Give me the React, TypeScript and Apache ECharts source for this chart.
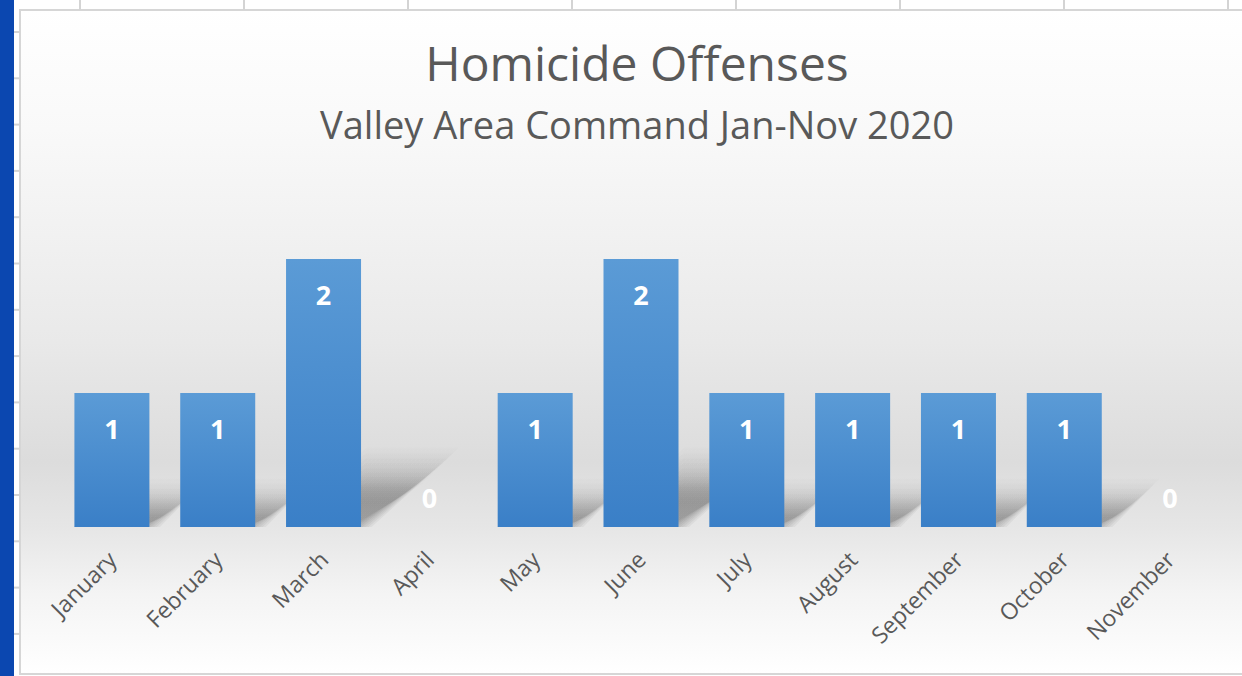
import React, { useEffect, useRef } from "react";
import * as echarts from "echarts";

const months = ["January", "February", "March", "April", "May", "June", "July", "August", "September", "October", "November"];
const offenses = [1, 1, 2, 0, 1, 2, 1, 1, 1, 1, 0];
const titleText = "Homicide Offenses";
const subtitleText = "Valley Area Command Jan-Nov 2020";

export default function App() {
  const ref = useRef<HTMLDivElement>(null);
  useEffect(() => {
    document.body.style.margin = "0";
    const chart = echarts.init(ref.current!, null, { renderer: "svg" });

    const decor: any[] = [];
    decor.push({
      type: "rect",
      z: -100,
      silent: true,
      shape: { x: 20, y: 10, width: 1240, height: 664 },
      style: {
        fill: new echarts.graphic.LinearGradient(0, 0, 0, 1, [
          { offset: 0, color: "#ffffff" },
          { offset: 0.18, color: "#f9f9f9" },
          { offset: 0.5, color: "#e9e9e9" },
          { offset: 0.68, color: "#dcdcdc" },
          { offset: 0.78, color: "#e6e6e6" },
          { offset: 0.88, color: "#f4f4f4" },
          { offset: 1, color: "#ffffff" },
        ]),
        stroke: "#d6d6d6",
        lineWidth: 2,
      },
    });
    decor.push({ type: "rect", z: -100, silent: true, shape: { x: 0, y: 0, width: 14, height: 676 }, style: { fill: "#0b47b0" } });
    for (let i = 0; i < 8; i++) {
      const x = 80 + i * 164;
      decor.push({ type: "line", z: -100, silent: true, shape: { x1: x, y1: 0, x2: x, y2: 10 }, style: { stroke: "#d4d4d4", lineWidth: 2 } });
    }
    for (let i = 0; i < 14; i++) {
      const y = 32 + i * 46.3;
      decor.push({ type: "line", z: -100, silent: true, shape: { x1: 14, y1: y, x2: 20, y2: y }, style: { stroke: "#d4d4d4", lineWidth: 2 } });
    }

    const barHalf = 37.5;

    chart.setOption({
      animation: false,
      backgroundColor: "#ffffff",
      graphic: { elements: decor },
      title: [
        {
          text: titleText,
          left: 637,
          top: 38,
          padding: 0,
          textAlign: "center",
          textStyle: { fontFamily: "Open Sans", fontWeight: "normal", fontSize: 48, lineHeight: 48, color: "#595959" },
        },
        {
          text: subtitleText,
          left: 637,
          top: 105,
          padding: 0,
          textAlign: "center",
          textStyle: { fontFamily: "Open Sans", fontWeight: "normal", fontSize: 38, lineHeight: 38, color: "#595959" },
        },
      ],
      grid: { left: 59, right: 19, top: 259, bottom: 149, containLabel: false },
      xAxis: {
        type: "category",
        data: months,
        axisLine: { show: false },
        axisTick: { show: false },
        axisLabel: {
          rotate: 45,
          margin: 28,
          interval: 0,
          fontFamily: "Open Sans",
          fontSize: 23,
          color: "#595959",
        },
      },
      yAxis: {
        type: "value",
        min: 0,
        max: 2,
        show: false,
        splitLine: { show: false },
      },
      series: [
        {
          type: "custom",
          z: 1,
          silent: true,
          data: offenses.map((v, i) => [i, v]),
          encode: { x: 0, y: 1 },
          renderItem: (params: any, api: any) => {
            const idx = api.value(0);
            const v = api.value(1);
            const base = api.coord([idx, 0]);
            const top = api.coord([idx, v]);
            const h = base[1] - top[1];
            if (h <= 0) return null;
            const dx = 0.3 * h;
            const dy = 0.23 * h;
            const children: any[] = [];
            const layers = 8;
            for (let k = 0; k < layers; k++) {
              const e = (k - (layers - 1) / 2) * 5;
              children.push({
                type: "polygon",
                shape: {
                  points: [
                    [base[0] - barHalf, base[1]],
                    [base[0] + barHalf + e * 0.6, base[1]],
                    [base[0] + barHalf + dx + e, base[1] - dy - e],
                    [base[0] - barHalf + dx, base[1] - dy - e],
                  ],
                },
                style: {
                  fill: new echarts.graphic.LinearGradient(0, 1, 0, 0, [
                    { offset: 0, color: "rgba(0,0,0,0.045)" },
                    { offset: 0.5, color: "rgba(0,0,0,0.05)" },
                    { offset: 1, color: "rgba(0,0,0,0.01)" },
                  ]),
                },
              });
            }
            return { type: "group", children };
          },
        },
        {
          type: "bar",
          z: 2,
          barWidth: 75,
          data: offenses.map((v) => ({
            value: v,
            label: v === 0 ? { position: "top", distance: 16 } : { position: "insideTop", distance: 22 },
          })),
          itemStyle: {
            color: new echarts.graphic.LinearGradient(0, 0, 0, 1, [
              { offset: 0, color: "#5b9bd6" },
              { offset: 1, color: "#3a7fc7" },
            ]),
          },
          label: {
            show: true,
            fontFamily: "Open Sans",
            fontWeight: "bold",
            fontSize: 27,
            color: "#ffffff",
          },
        },
      ],
    });
    return () => chart.dispose();
  }, []);
  return <div ref={ref} style={{ width: 1242, height: 676 }} />;
}
